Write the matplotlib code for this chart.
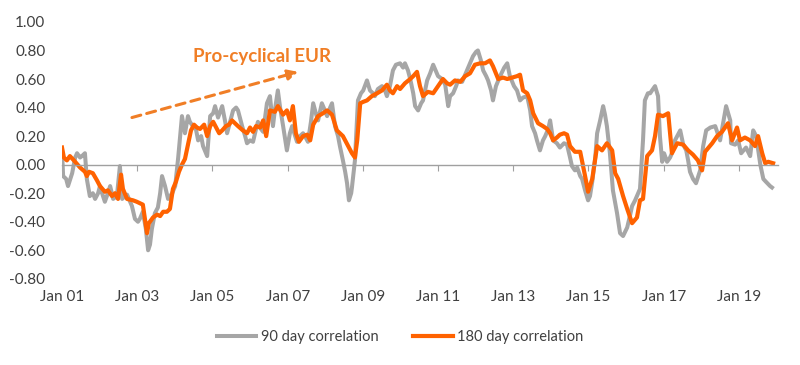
import matplotlib
matplotlib.use("Agg")
import matplotlib.pyplot as plt

plt.rcParams["font.family"] = ["Lato", "DejaVu Sans"]

# 90 day correlation (grey)
corr90_t = [2001.00, 2001.03, 2001.11, 2001.16, 2001.27, 2001.35, 2001.40, 2001.48, 2001.53, 2001.61,
            2001.66, 2001.74, 2001.82, 2001.88, 2001.96, 2002.01, 2002.09, 2002.14, 2002.22, 2002.28,
            2002.36, 2002.46, 2002.54, 2002.60, 2002.68, 2002.73, 2002.81, 2002.86, 2002.94, 2003.02,
            2003.07, 2003.15, 2003.23, 2003.29, 2003.34, 2003.39, 2003.47, 2003.55, 2003.61, 2003.66,
            2003.74, 2003.82, 2003.93, 2004.01, 2004.09, 2004.19, 2004.27, 2004.35, 2004.40, 2004.48,
            2004.56, 2004.62, 2004.70, 2004.75, 2004.86, 2004.94, 2005.02, 2005.07, 2005.15, 2005.26,
            2005.34, 2005.39, 2005.47, 2005.55, 2005.63, 2005.68, 2005.79, 2005.87, 2005.92, 2006.00,
            2006.08, 2006.16, 2006.21, 2006.29, 2006.35, 2006.45, 2006.53, 2006.61, 2006.66, 2006.74,
            2006.80, 2006.88, 2006.98, 2007.06, 2007.12, 2007.20, 2007.25, 2007.33, 2007.41, 2007.46,
            2007.54, 2007.62, 2007.68, 2007.76, 2007.81, 2007.91, 2007.99, 2008.05, 2008.13, 2008.18,
            2008.26, 2008.34, 2008.39, 2008.47, 2008.53, 2008.58, 2008.63, 2008.69, 2008.71, 2008.79,
            2008.87, 2008.95, 2009.01, 2009.11, 2009.19, 2009.27, 2009.32, 2009.40, 2009.51, 2009.59,
            2009.64, 2009.72, 2009.80, 2009.88, 2009.99, 2010.07, 2010.12, 2010.20, 2010.26, 2010.34,
            2010.39, 2010.47, 2010.55, 2010.60, 2010.71, 2010.79, 2010.87, 2010.95, 2011.00, 2011.11,
            2011.19, 2011.27, 2011.32, 2011.40, 2011.48, 2011.53, 2011.64, 2011.77, 2011.85, 2011.93,
            2012.01, 2012.06, 2012.14, 2012.20, 2012.28, 2012.33, 2012.41, 2012.46, 2012.54, 2012.65,
            2012.76, 2012.84, 2012.91, 2013.02, 2013.10, 2013.18, 2013.26, 2013.37, 2013.45, 2013.50,
            2013.58, 2013.63, 2013.71, 2013.79, 2013.85, 2013.93, 2013.98, 2014.06, 2014.16, 2014.24,
            2014.35, 2014.43, 2014.51, 2014.56, 2014.64, 2014.70, 2014.78, 2014.83, 2014.91, 2014.99,
            2015.04, 2015.10, 2015.18, 2015.23, 2015.31, 2015.39, 2015.44, 2015.49, 2015.57, 2015.65,
            2015.76, 2015.84, 2015.92, 2016.03, 2016.11, 2016.16, 2016.24, 2016.32, 2016.37, 2016.42,
            2016.45, 2016.50, 2016.58, 2016.64, 2016.69, 2016.77, 2016.85, 2016.90, 2016.96, 2017.01,
            2017.09, 2017.17, 2017.22, 2017.30, 2017.36, 2017.44, 2017.52, 2017.60, 2017.65, 2017.70,
            2017.78, 2017.86, 2017.97, 2018.05, 2018.13, 2018.24, 2018.37, 2018.50, 2018.58, 2018.66,
            2018.77, 2018.79, 2018.90, 2018.98, 2019.06, 2019.19, 2019.30, 2019.38, 2019.46, 2019.57,
            2019.65, 2019.72, 2019.83, 2019.88]
corr90 = [0.10, -0.08, -0.10, -0.15, -0.06, 0.05, 0.08, 0.05, 0.06, 0.08,
          -0.10, -0.22, -0.20, -0.24, -0.20, -0.15, -0.22, -0.26, -0.20, -0.15,
          -0.24, -0.22, -0.01, -0.24, -0.22, -0.21, -0.26, -0.29, -0.38, -0.40,
          -0.38, -0.33, -0.45, -0.60, -0.56, -0.45, -0.34, -0.30, -0.20, -0.08,
          -0.15, -0.24, -0.20, -0.15, 0.05, 0.34, 0.22, 0.34, 0.30, 0.27,
          0.25, 0.17, 0.20, 0.13, 0.06, 0.34, 0.36, 0.41, 0.33, 0.41,
          0.30, 0.22, 0.30, 0.38, 0.40, 0.38, 0.27, 0.20, 0.15, 0.17,
          0.16, 0.25, 0.30, 0.25, 0.23, 0.43, 0.48, 0.27, 0.38, 0.52,
          0.40, 0.27, 0.10, 0.22, 0.27, 0.20, 0.16, 0.20, 0.22, 0.20,
          0.16, 0.30, 0.43, 0.35, 0.31, 0.43, 0.38, 0.34, 0.40, 0.43,
          0.27, 0.20, 0.13, 0.03, -0.05, -0.13, -0.25, -0.20, -0.16, 0.03,
          0.45, 0.50, 0.52, 0.59, 0.52, 0.50, 0.48, 0.53, 0.55, 0.52,
          0.48, 0.55, 0.66, 0.70, 0.71, 0.68, 0.71, 0.66, 0.60, 0.50,
          0.41, 0.38, 0.43, 0.45, 0.59, 0.64, 0.70, 0.65, 0.62, 0.60,
          0.56, 0.41, 0.48, 0.50, 0.55, 0.59, 0.58, 0.66, 0.71, 0.76,
          0.79, 0.80, 0.73, 0.66, 0.62, 0.59, 0.52, 0.45, 0.55, 0.62,
          0.68, 0.71, 0.62, 0.55, 0.52, 0.45, 0.47, 0.48, 0.38, 0.27,
          0.22, 0.17, 0.10, 0.17, 0.20, 0.25, 0.31, 0.17, 0.15, 0.12,
          0.15, 0.14, 0.05, -0.01, -0.04, -0.02, -0.08, -0.10, -0.18, -0.25,
          -0.22, -0.12, 0.05, 0.22, 0.31, 0.41, 0.35, 0.27, 0.08, -0.18,
          -0.34, -0.48, -0.50, -0.44, -0.35, -0.29, -0.25, -0.20, -0.17, 0.05,
          0.17, 0.45, 0.50, 0.50, 0.52, 0.55, 0.48, 0.20, 0.02, 0.08,
          0.02, 0.05, 0.08, 0.17, 0.20, 0.24, 0.14, 0.10, 0.03, -0.05,
          -0.10, -0.13, -0.04, 0.13, 0.24, 0.26, 0.27, 0.17, 0.29, 0.41,
          0.31, 0.15, 0.14, 0.17, 0.08, 0.12, 0.06, 0.24, 0.20, 0.00,
          -0.10, -0.12, -0.15, -0.16]

# 180 day correlation (orange)
corr180_t = [2001.00, 2001.05, 2001.13, 2001.21, 2001.35, 2001.48, 2001.61, 2001.66, 2001.72, 2001.82,
             2001.93, 2002.01, 2002.14, 2002.22, 2002.33, 2002.41, 2002.49, 2002.57, 2002.62, 2002.73,
             2002.89, 2002.99, 2003.15, 2003.26, 2003.31, 2003.42, 2003.53, 2003.61, 2003.69, 2003.79,
             2003.87, 2003.95, 2004.03, 2004.11, 2004.19, 2004.27, 2004.35, 2004.43, 2004.51, 2004.59,
             2004.67, 2004.78, 2004.86, 2004.94, 2005.02, 2005.10, 2005.18, 2005.26, 2005.36, 2005.44,
             2005.52, 2005.60, 2005.68, 2005.81, 2005.92, 2006.00, 2006.08, 2006.16, 2006.27, 2006.35,
             2006.43, 2006.53, 2006.66, 2006.74, 2006.88, 2006.98, 2007.06, 2007.14, 2007.22, 2007.30,
             2007.41, 2007.52, 2007.60, 2007.68, 2007.81, 2007.94, 2008.05, 2008.18, 2008.31, 2008.47,
             2008.61, 2008.71, 2008.79, 2008.85, 2008.93, 2009.01, 2009.11, 2009.24, 2009.38, 2009.51,
             2009.64, 2009.72, 2009.80, 2009.91, 2009.99, 2010.12, 2010.26, 2010.34, 2010.44, 2010.52,
             2010.60, 2010.73, 2010.87, 2011.00, 2011.13, 2011.24, 2011.32, 2011.45, 2011.59, 2011.72,
             2011.85, 2011.98, 2012.12, 2012.25, 2012.38, 2012.46, 2012.60, 2012.73, 2012.84, 2012.97,
             2013.10, 2013.18, 2013.26, 2013.37, 2013.45, 2013.53, 2013.66, 2013.79, 2013.90, 2013.98,
             2014.06, 2014.16, 2014.24, 2014.35, 2014.43, 2014.51, 2014.64, 2014.78, 2014.91, 2014.99,
             2015.10, 2015.23, 2015.36, 2015.49, 2015.63, 2015.71, 2015.79, 2015.92, 2016.03, 2016.16,
             2016.29, 2016.37, 2016.45, 2016.56, 2016.69, 2016.77, 2016.85, 2016.98, 2017.12, 2017.22,
             2017.36, 2017.52, 2017.65, 2017.78, 2017.91, 2018.02, 2018.10, 2018.29, 2018.42, 2018.55,
             2018.71, 2018.82, 2018.95, 2019.03, 2019.16, 2019.30, 2019.43, 2019.51, 2019.62, 2019.70,
             2019.78, 2019.91]
corr180 = [0.12, 0.05, 0.03, 0.06, 0.02, -0.02, -0.05, -0.08, -0.05, -0.06,
           -0.11, -0.15, -0.19, -0.18, -0.22, -0.20, -0.24, -0.07, -0.17, -0.24,
           -0.25, -0.26, -0.28, -0.48, -0.41, -0.37, -0.35, -0.36, -0.33, -0.33,
           -0.31, -0.17, -0.12, -0.05, 0.00, 0.04, 0.14, 0.24, 0.28, 0.26,
           0.25, 0.28, 0.20, 0.27, 0.30, 0.26, 0.22, 0.24, 0.27, 0.28,
           0.31, 0.29, 0.27, 0.24, 0.22, 0.26, 0.23, 0.27, 0.26, 0.31,
           0.20, 0.38, 0.37, 0.41, 0.35, 0.38, 0.31, 0.41, 0.22, 0.16,
           0.20, 0.21, 0.17, 0.28, 0.34, 0.36, 0.38, 0.35, 0.24, 0.20,
           0.13, 0.08, 0.05, 0.17, 0.43, 0.44, 0.45, 0.48, 0.50, 0.52,
           0.56, 0.52, 0.50, 0.55, 0.53, 0.57, 0.60, 0.62, 0.65, 0.55,
           0.48, 0.51, 0.50, 0.55, 0.60, 0.57, 0.56, 0.59, 0.58, 0.62,
           0.64, 0.70, 0.71, 0.71, 0.73, 0.69, 0.60, 0.61, 0.60, 0.61,
           0.62, 0.63, 0.52, 0.50, 0.45, 0.36, 0.29, 0.27, 0.25, 0.22,
           0.17, 0.19, 0.21, 0.22, 0.21, 0.13, 0.09, 0.09, -0.08, -0.19,
           -0.10, 0.13, 0.10, 0.15, 0.10, -0.06, -0.10, -0.22, -0.31, -0.41,
           -0.37, -0.25, -0.24, 0.06, 0.10, 0.20, 0.35, 0.34, 0.36, 0.08,
           0.15, 0.14, 0.10, 0.07, 0.03, -0.04, 0.09, 0.15, 0.20, 0.23,
           0.29, 0.17, 0.26, 0.17, 0.19, 0.17, 0.13, 0.20, 0.08, 0.01,
           0.02, 0.01]

tick_years = [2001, 2003, 2005, 2007, 2009, 2011, 2013, 2015, 2017, 2019]
tick_labels = ["Jan 01", "Jan 03", "Jan 05", "Jan 07", "Jan 09",
               "Jan 11", "Jan 13", "Jan 15", "Jan 17", "Jan 19"]
y_ticks = [-0.8, -0.6, -0.4, -0.2, 0.0, 0.2, 0.4, 0.6, 0.8, 1.0]

grey = "#A6A6A6"
orange = "#FF6200"
text_col = "#404040"

fig = plt.figure(figsize=(8, 3.65), dpi=100)
ax = fig.add_axes([0.0775, 0.236, 0.895, 0.704])

ax.plot(corr90_t, corr90, color=grey, lw=2.9, label="90 day correlation",
        solid_joinstyle="round")
ax.plot(corr180_t, corr180, color=orange, lw=3.0, label="180 day correlation",
        solid_joinstyle="round")

ax.set_xlim(2001.0, 2020.04)
ax.set_ylim(-0.8, 1.0)
ax.set_yticks(y_ticks)
ax.set_yticklabels([f"{v:.2f}" for v in y_ticks])
ax.tick_params(axis="y", length=0, pad=12, labelsize=11, labelcolor=text_col)

# zero line with small tick marks, labels at the bottom
for s in ["top", "right", "left"]:
    ax.spines[s].set_visible(False)
ax.spines["bottom"].set_position(("data", 0))
ax.spines["bottom"].set_color("#A0A0A0")
ax.spines["bottom"].set_linewidth(1.0)
ax.set_xticks(tick_years)
ax.tick_params(axis="x", length=4, color="#A0A0A0", labelbottom=False)

sec = ax.secondary_xaxis("bottom")
sec.set_xticks(tick_years)
sec.set_xticklabels(tick_labels)
sec.spines["bottom"].set_visible(False)
sec.tick_params(length=0, pad=8, labelsize=11, labelcolor=text_col)

# annotation
ax.annotate("", xy=(2007.28, 0.65), xytext=(2002.86, 0.33),
            arrowprops=dict(arrowstyle="-|>,head_length=0.6,head_width=0.3",
                            linestyle=(0, (3, 2)), lw=2.2, color="#F07E26",
                            shrinkA=0, shrinkB=0))
ax.text(2006.32, 0.755, "Pro-cyclical EUR", color="#F07E26", fontsize=13.5,
        fontweight="bold", ha="center", va="center")

fig.legend(loc="center", bbox_to_anchor=(0.5, 0.077), ncol=2, frameon=False,
           fontsize=10.5, labelcolor=text_col, handlelength=2.7, columnspacing=2.4,
           handletextpad=0.3)

fig.savefig("out.png", dpi=100)
